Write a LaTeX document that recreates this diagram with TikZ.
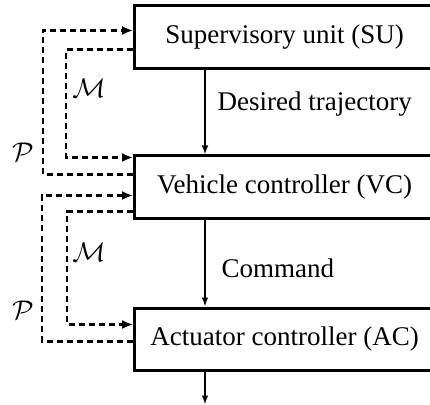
\documentclass[tikz,border=0pt]{standalone}
\usepackage{fontspec}
\setmainfont{Liberation Serif}
\usetikzlibrary{positioning, calc, arrows.meta}

\tikzset{
  unitbox/.style={draw, font=\small, line width=1pt, anchor=west, minimum width=100pt, minimum height=20.67pt, inner sep=0pt},
  flow/.style={line width=0.5pt, -{Latex[length=3pt,width=2.2pt]}},
  loop/.style={line width=0.85pt, dash pattern=on 2pt off 1.35pt},
  loophead/.style={loop, -{Latex[length=3.6pt,width=3pt]}},
  sig/.style={font=\small, anchor=west, inner sep=0pt},
  setlabel/.style={font=\small, inner sep=0pt}
}

\begin{document}
\begin{tikzpicture}[x=0.3333pt, y=-0.3333pt]
  \useasboundingbox (0,0) rectangle (430,404);
  \clip (0,0) rectangle (430,404);

  \node[unitbox] (SU) at (133,37) {Supervisory unit (SU)};
  \node[unitbox] (VC) at ( $(SU.west) + (0,150)$ ) {Vehicle controller (VC)};
  \node[unitbox] (AC) at ( $(VC.west) + (0,152)$ ) {Actuator controller (AC)};
  \coordinate (out) at ( $(AC.south west) + (72,33)$ );

  % main flow
  \draw[flow] ( $(SU.south west) + (72,0)$ ) -- ( $(VC.north west) + (72,0)$ );
  \draw[flow] ( $(VC.south west) + (72,0)$ ) -- ( $(AC.north west) + (72,0)$ );
  \draw[flow] ( $(AC.south west) + (72,0)$ ) -- (out);
  \node[sig] (dt) at ( $(SU.south west) + (84,35)$ ) {Desired trajectory};
  \node[sig] (cmd) at ( $(VC.south west) + (88,49)$ ) {Command};

  % SU <-> VC
  \draw[loophead] ( $(VC.north west) + (0,20)$ ) -| ++(-90,-144) -- ( $(SU.north west) + (0,26)$ );
  \draw[loophead] ( $(SU.north west) + (0,45)$ ) -| ++(-67,108) -- ( $(VC.north west) + (0,3)$ );
  \node[setlabel] (M1) at (89,88) {$\mathcal{M}$};
  \node[setlabel] (P1) at (23,152) {$\mathcal{P}$};

  % VC <-> AC
  \draw[loophead] ( $(AC.north west) + (0,35)$ ) -| ++(-91,-146) -- ( $(VC.north west) + (0,41)$ );
  \draw[loophead] ( $(VC.north west) + (0,57)$ ) -| ++(-66,113) -- ( $(AC.north west) + (0,18)$ );
  \node[setlabel] (M2) at (89,252) {$\mathcal{M}$};
  \node[setlabel] (P2) at (23,310) {$\mathcal{P}$};
\end{tikzpicture}
\end{document}
